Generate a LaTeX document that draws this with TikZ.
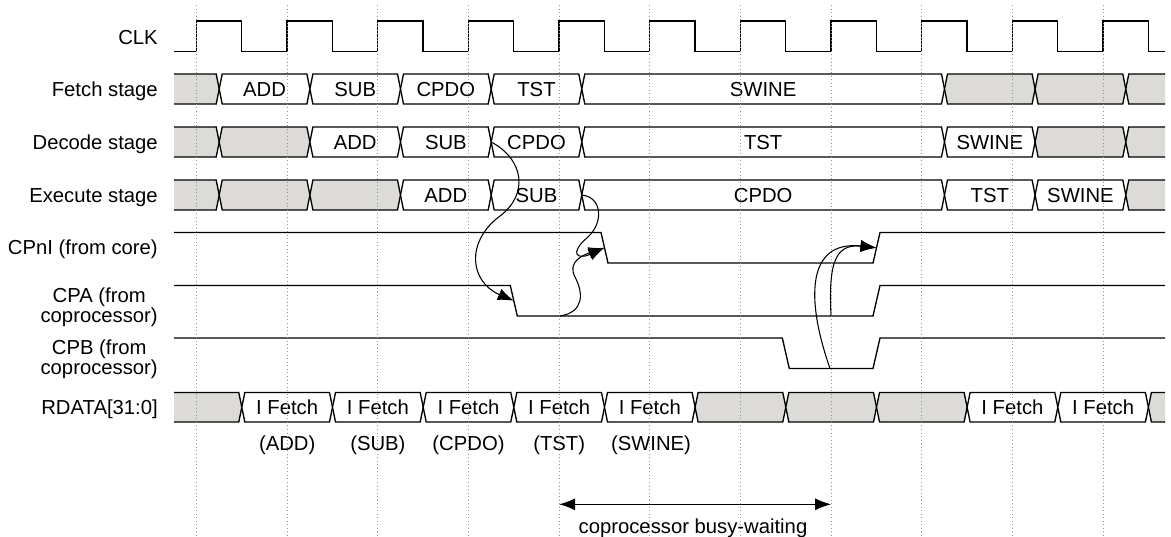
\documentclass[tikz,border=0pt]{standalone}
\usepackage{fontspec}
\setmainfont{Liberation Sans}
\usetikzlibrary{arrows.meta}
\definecolor{busgray}{RGB}{221,219,216}
% bus segment helpers: x1 x2 fill top bottom
\newcommand\tdseg[5]{%
  \filldraw[sig,fill=#3] (#1,{(#4+#5)/2}) -- ({#1+3},#4) -- ({#2-3},#4) -- (#2,{(#4+#5)/2}) -- ({#2-3},#5) -- ({#1+3},#5) -- cycle;}
\newcommand\tdfirst[4]{%
  \fill[#2] (174,#3) -- ({#1-3},#3) -- (#1,{(#3+#4)/2}) -- ({#1-3},#4) -- (174,#4) -- cycle;
  \draw[sig] (174,#3) -- ({#1-3},#3) -- (#1,{(#3+#4)/2}) -- ({#1-3},#4) -- (174,#4);}
\newcommand\tdlast[4]{%
  \fill[#2] (1165,#3) -- ({#1+3},#3) -- (#1,{(#3+#4)/2}) -- ({#1+3},#4) -- (1165,#4) -- cycle;
  \draw[sig] (1165,#3) -- ({#1+3},#3) -- (#1,{(#3+#4)/2}) -- ({#1+3},#4) -- (1165,#4);}
\begin{document}
\begin{tikzpicture}[x=0.75pt,y=-0.75pt,
  font=\fontsize{15.2}{15}\selectfont,
  sig/.style={line width=1pt, line join=miter},
  gridln/.style={draw=gray!85, dotted, line width=0.65pt},
  cur/.style={line width=0.8pt, -{Latex[length=12pt,width=9pt]}},
  rowlbl/.style={anchor=base east, inner sep=0pt},
  twolbl/.style={anchor=east, inner sep=0pt, align=center},
  bustxt/.style={anchor=base, inner sep=0pt}]
\useasboundingbox (0,0) rectangle (1171,536);

% ---------- row labels ----------
\node[rowlbl] (lclk) at (158,44.2) {CLK};
\node[rowlbl] (lfet) at (158,96.2) {Fetch stage};
\node[rowlbl] (ldec) at (158,149.2) {Decode stage};
\node[rowlbl] (lexe) at (158,202.2) {Execute stage};
\node[rowlbl] (lcpn) at (158,254.5) {CPnI (from core)};
\node[twolbl] (lcpa) at (158,307) {CPA (from\\coprocessor)};
\node[twolbl] (lcpb) at (158,359.5) {CPB (from\\coprocessor)};
\node[rowlbl] (lrd) at (158,414.5) {RDATA[31:0]};

% ---------- clock ----------
\draw[sig] (174,51.5)
  foreach \k in {0,...,10} { -- ({196.5+90.66*\k},51.5) -- ({196.5+90.66*\k},21)
     -- ({241.83+90.66*\k},21) -- ({241.83+90.66*\k},51.5) }
  -- (1165,51.5);

% ---------- Fetch stage ----------
\tdfirst{219.2}{busgray}{74}{104}
\tdseg{219.2}{309.9}{white}{74}{104}
\tdseg{309.9}{400.5}{white}{74}{104}
\tdseg{400.5}{491.2}{white}{74}{104}
\tdseg{491.2}{581.8}{white}{74}{104}
\tdseg{581.8}{944.5}{white}{74}{104}
\tdseg{944.5}{1035.1}{busgray}{74}{104}
\tdseg{1035.1}{1125.8}{busgray}{74}{104}
\tdlast{1125.8}{busgray}{74}{104}
\node[bustxt] (fADD) at (264.55,96.2) {ADD};
\node[bustxt] (fSUB) at (355.2,96.2) {SUB};
\node[bustxt] (fCPDO) at (445.85,96.2) {CPDO};
\node[bustxt] (fTST) at (536.5,96.2) {TST};
\node[bustxt] (fSWINE) at (763.15,96.2) {SWINE};

% ---------- Decode stage ----------
\tdfirst{219.2}{busgray}{127}{157}
\tdseg{219.2}{309.9}{busgray}{127}{157}
\tdseg{309.9}{400.5}{white}{127}{157}
\tdseg{400.5}{491.2}{white}{127}{157}
\tdseg{491.2}{581.8}{white}{127}{157}
\tdseg{581.8}{944.5}{white}{127}{157}
\tdseg{944.5}{1035.1}{white}{127}{157}
\tdseg{1035.1}{1125.8}{busgray}{127}{157}
\tdlast{1125.8}{busgray}{127}{157}
\node[bustxt] (dADD) at (355.2,149.2) {ADD};
\node[bustxt] (dSUB) at (445.85,149.2) {SUB};
\node[bustxt] (dCPDO) at (536.5,149.2) {CPDO};
\node[bustxt] (dTST) at (763.15,149.2) {TST};
\node[bustxt] (dSWINE) at (989.8,149.2) {SWINE};

% ---------- Execute stage ----------
\tdfirst{219.2}{busgray}{180}{210}
\tdseg{219.2}{309.9}{busgray}{180}{210}
\tdseg{309.9}{400.5}{busgray}{180}{210}
\tdseg{400.5}{491.2}{white}{180}{210}
\tdseg{491.2}{581.8}{white}{180}{210}
\tdseg{581.8}{944.5}{white}{180}{210}
\tdseg{944.5}{1035.1}{white}{180}{210}
\tdseg{1035.1}{1125.8}{white}{180}{210}
\tdlast{1125.8}{busgray}{180}{210}
\node[bustxt] (eADD) at (445.85,202.2) {ADD};
\node[bustxt] (eSUB) at (536.5,202.2) {SUB};
\node[bustxt] (eCPDO) at (763.15,202.2) {CPDO};
\node[bustxt] (eTST) at (989.8,202.2) {TST};
\node[bustxt] (eSWINE) at (1080.45,202.2) {SWINE};

% ---------- handshake signals ----------
\draw[sig] (174,232.5) -- (601,232.5) -- (608,263) -- (873,263) -- (880,232.5) -- (1165,232.5);
\draw[sig] (174,285.5) -- (510.3,285.5) -- (517.3,316) -- (873,316) -- (880,285.5) -- (1165,285.5);
\draw[sig] (174,338) -- (782.3,338) -- (789.3,368.5) -- (873,368.5) -- (880,338) -- (1165,338);

% ---------- RDATA ----------
\tdfirst{241.8}{busgray}{392.5}{422}
\tdseg{241.8}{332.5}{white}{392.5}{422}
\tdseg{332.5}{423.2}{white}{392.5}{422}
\tdseg{423.2}{513.8}{white}{392.5}{422}
\tdseg{513.8}{604.5}{white}{392.5}{422}
\tdseg{604.5}{695.1}{white}{392.5}{422}
\tdseg{695.1}{785.8}{busgray}{392.5}{422}
\tdseg{785.8}{876.5}{busgray}{392.5}{422}
\tdseg{876.5}{967.1}{busgray}{392.5}{422}
\tdseg{967.1}{1057.8}{white}{392.5}{422}
\tdseg{1057.8}{1148.4}{white}{392.5}{422}
\tdlast{1148.4}{busgray}{392.5}{422}
\node[bustxt] (r1) at (287.15,414.5) {I Fetch};
\node[bustxt] (r2) at (377.85,414.5) {I Fetch};
\node[bustxt] (r3) at (468.5,414.5) {I Fetch};
\node[bustxt] (r4) at (559.15,414.5) {I Fetch};
\node[bustxt] (r5) at (649.8,414.5) {I Fetch};
\node[bustxt] (r6) at (1012.45,414.5) {I Fetch};
\node[bustxt] (r7) at (1103.1,414.5) {I Fetch};

\node[bustxt] (iADD) at (287.15,450.5) {(ADD)};
\node[bustxt] (iSUB) at (377.85,450.5) {(SUB)};
\node[bustxt] (iCPDO) at (468.5,450.5) {(CPDO)};
\node[bustxt] (iTST) at (559.15,450.5) {(TST)};
\node[bustxt] (iSWINE) at (651,450.5) {(SWINE)};

% ---------- grid lines ----------
\foreach \k in {0,...,10} \draw[gridln] ({196.5+90.66*\k},5) -- ({196.5+90.66*\k},536);

% ---------- causal arrows ----------
\coordinate (dX) at (491.2,142);
\coordinate (eX) at (581.8,195);
\coordinate (cpaLowA) at (560,316);
\coordinate (cpaLowB) at (831,316);
\coordinate (cpbLow) at (830,368.5);
\coordinate (cpaFall) at (513.8,300.75);
\coordinate (cpnFall) at (604.5,247.75);
\coordinate (cpnRise) at (876.5,247.75);

\draw[cur] (dX) .. controls (525,160) and (528,195) .. (500,216)
               .. controls (465,242) and (470,282) .. (cpaFall);
\draw[cur] (cpaLowA) .. controls (585,312) and (583,292) .. (575,277)
                    .. controls (567,262) and (583,255) .. (cpnFall);
\draw[cur] (eX) .. controls (602,197) and (604,222) .. (588,237)
               .. controls (568,254) and (578,260) .. (cpnFall);
\draw[cur] (cpbLow) .. controls (806,300) and (806,240) .. (cpnRise);
\draw[cur] (cpaLowB) .. controls (829,270) and (832,243) .. (cpnRise);

% ---------- busy-waiting span ----------
\coordinate (bwL) at (559.1,504.3);
\coordinate (bwR) at (831.1,504.3);
\draw[line width=0.9pt, {Latex[length=12pt,width=9pt]}-{Latex[length=12pt,width=9pt]}] (bwL) -- (bwR);
\node[bustxt] (bwtxt) at (693,533) {coprocessor busy-waiting};
\end{tikzpicture}
\end{document}
